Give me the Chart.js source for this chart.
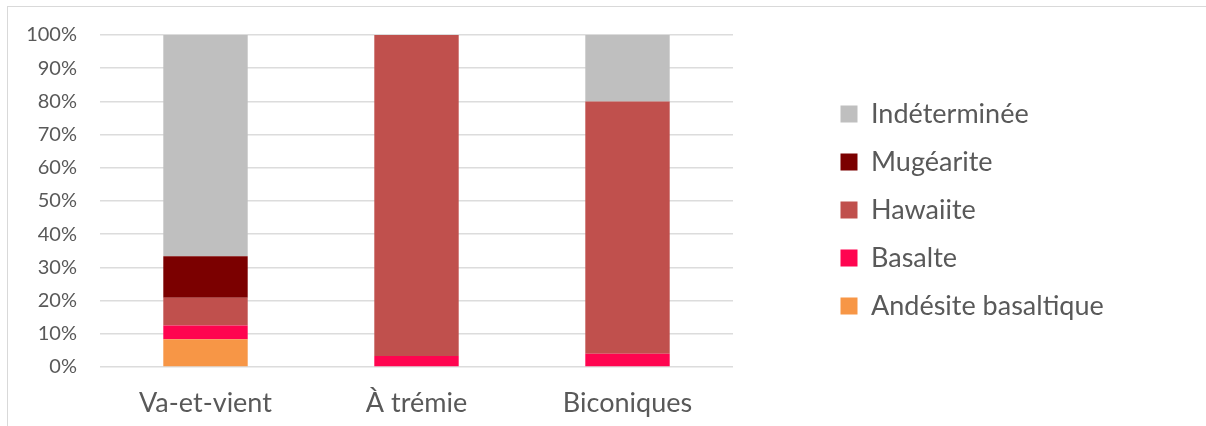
<!DOCTYPE html>
<html>
<head>
<meta charset="utf-8">
<script src="https://cdn.jsdelivr.net/npm/chart.js@4"></script>
<style>
html,body{margin:0;padding:0;background:#fff;}
#wrap{position:relative;width:1206px;height:426px;overflow:hidden;}
#frame{position:absolute;left:7px;top:6px;width:1300px;height:500px;border-top:1px solid #d9d9d9;border-left:1px solid #d9d9d9;pointer-events:none;}
canvas{position:absolute;left:0;top:0;}
</style>
</head>
<body>
<div id="wrap">
<canvas id="c" width="1206" height="426"></canvas>
<div id="frame"></div>
</div>
<script>
const categories = ['Va-et-vient', 'À trémie', 'Biconiques'];
const andesite = [8.33, 0, 0];
const basalte = [4.17, 3.33, 4];
const hawaiite = [8.33, 96.67, 76];
const mugearite = [12.5, 0, 0];
const indeterminee = [66.67, 0, 20];
const seriesNames = ['Andésite basaltique', 'Basalte', 'Hawaiite', 'Mugéarite', 'Indéterminée'];
const seriesColors = ['#F79646', '#FF0550', '#C0504D', '#7B0000', '#BFBFBF'];
const yTicks = [0, 10, 20, 30, 40, 50, 60, 70, 80, 90, 100];

const FONT = 'Lato';
const textColor = '#595959';
const legendFontSize = 27;
const legendPad = 21;
const boxSize = 17;

const W = 1206;
const plotRight = 733;
const legendItemX = 871 - legendFontSize / 2 - boxSize; // box left
const legendBoxLeft = legendItemX - legendPad;
const legendClampW = W / 2 / 3; // layout clamp for 3 vertical boxes
const gapW = W - plotRight - legendClampW;

const dataSets = [andesite, basalte, hawaiite, mugearite, indeterminee];

const placeLegend = {
  id: 'placeLegend',
  afterLayout(chart) {
    const lg = chart.legend;
    if (!lg) return;
    lg.left = legendBoxLeft;
    lg.right = W;
    lg.width = lg.right - lg.left;
    lg.top -= 3;
    lg.bottom -= 3;
  }
};

new Chart(document.getElementById('c'), {
  type: 'bar',
  data: {
    labels: categories,
    datasets: dataSets.map((d, i) => ({
      label: seriesNames[i],
      data: d,
      backgroundColor: seriesColors[i],
      borderWidth: 0,
      barPercentage: 0.4,
      categoryPercentage: 1.0
    }))
  },
  options: {
    responsive: false,
    animation: false,
    devicePixelRatio: 1,
    layout: { padding: 0 },
    plugins: {
      legend: {
        position: 'right',
        reverse: true,
        align: 'center',
        labels: {
          font: { family: FONT, size: legendFontSize },
          color: textColor,
          boxWidth: boxSize,
          boxHeight: boxSize,
          padding: legendPad
        }
      },
      tooltip: { enabled: false }
    },
    scales: {
      x: {
        stacked: true,
        grid: { display: false, drawTicks: false },
        border: { display: false },
        ticks: { font: { family: FONT, size: 27 }, color: textColor, padding: 20 },
        afterFit(s) { s.height = 426 - 367; }
      },
      y: {
        stacked: true,
        min: 0,
        max: 100,
        afterBuildTicks(s) { s.ticks = yTicks.map(v => ({ value: v })); },
        grid: { color: '#dcdcdc', lineWidth: 1.6, drawTicks: false },
        border: { display: false },
        ticks: {
          font: { family: FONT, size: 20 },
          color: textColor,
          padding: 23,
          callback: v => v + '%'
        },
        afterFit(s) { s.width = 100; }
      },
      gap: {
        position: 'right',
        display: true,
        grid: { display: false, drawTicks: false },
        border: { display: false },
        ticks: { display: false },
        afterFit(s) { s.width = gapW; }
      }
    }
  },
  plugins: [placeLegend]
});
</script>
</body>
</html>
